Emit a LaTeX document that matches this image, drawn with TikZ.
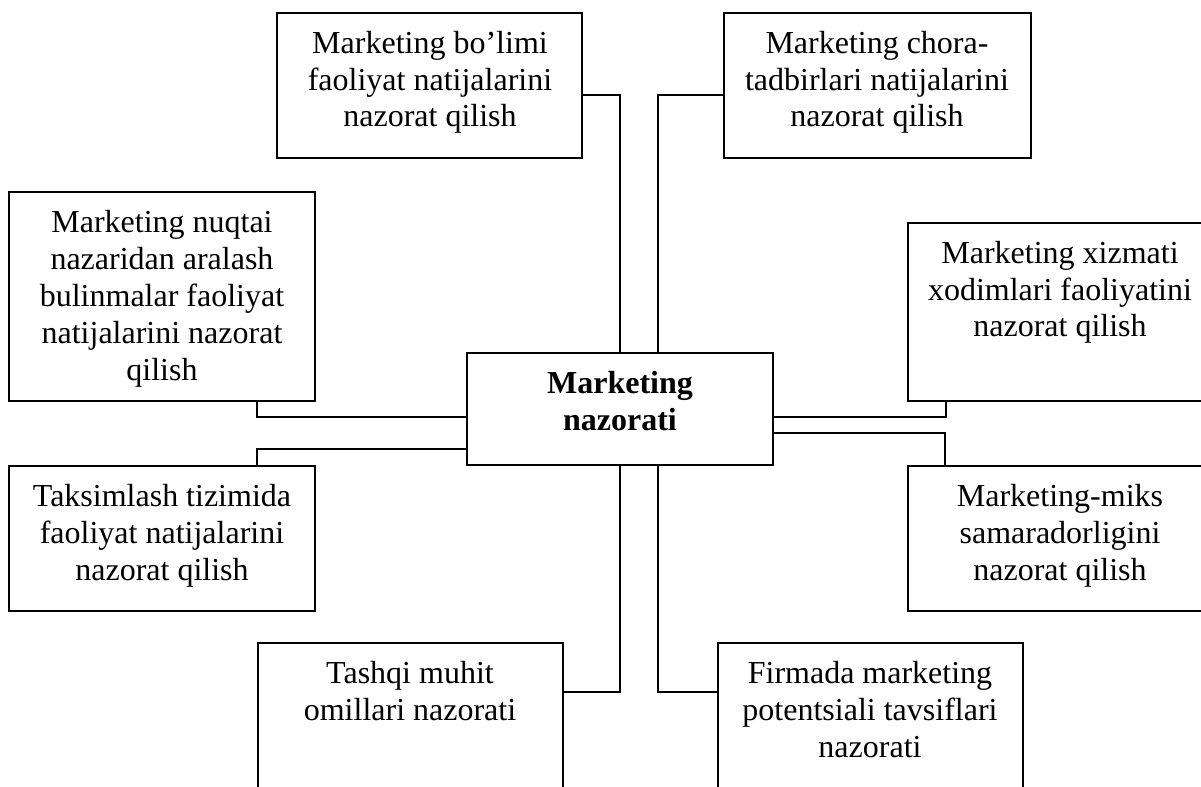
\documentclass[tikz,border=0pt]{standalone}
\usepackage{fontspec}
\setmainfont{Liberation Serif}
\usetikzlibrary{calc}
\begin{document}
\begin{tikzpicture}[x=0.75pt,y=-0.75pt,
  box/.style={draw, line width=1.5pt, inner sep=0pt, outer sep=0pt, anchor=north west},
  lbl/.style={anchor=base, align=center, inner sep=0pt, font=\fontsize{24pt}{27.6pt}\selectfont},
  conn/.style={line width=1.3pt}]
\useasboundingbox (0,0) rectangle (1201,787);
\clip (0,0) rectangle (1201,787);
\fill[white] (0,0) rectangle (1201,787);
% boxes
\node[box, minimum width={305*0.75pt}, minimum height={145*0.75pt}] (b1) at (277,13) {};
\node[box, minimum width={307*0.75pt}, minimum height={145*0.75pt}] (b2) at (724,13) {};
\node[box, minimum width={306*0.75pt}, minimum height={209*0.75pt}] (b3) at (9,192) {};
\node[box, minimum width={306*0.75pt}, minimum height={145*0.75pt}] (b4) at (9,466) {};
\node[box, minimum width={304*0.75pt}, minimum height={178*0.75pt}] (b5) at (908,223) {};
\node[box, minimum width={304*0.75pt}, minimum height={145*0.75pt}] (b6) at (908,466) {};
\node[box, minimum width={305*0.75pt}, minimum height={160*0.75pt}] (b7) at (258,643) {};
\node[box, minimum width={305*0.75pt}, minimum height={160*0.75pt}] (b8) at (718,643) {};
\node[box, minimum width={306*0.75pt}, minimum height={112*0.75pt}] (c) at (467,353) {};
% labels (anchor=base is the last line's baseline)
\node[lbl] (t1) at (430,127) {Marketing bo’limi\\faoliyat natijalarini\\nazorat qilish};
\node[lbl] (t2) at (877,127) {Marketing chora-\\tadbirlari natijalarini\\nazorat qilish};
\node[lbl] (t3) at (162,380) {Marketing nuqtai\\nazaridan aralash\\bulinmalar faoliyat\\natijalarini nazorat\\qilish};
\node[lbl] (t4) at (162,580) {Taksimlash tizimida\\faoliyat natijalarini\\nazorat qilish};
\node[lbl] (t5) at (1060,337) {Marketing xizmati\\xodimlari faoliyatini\\nazorat qilish};
\node[lbl] (t6) at (1060,580) {Marketing-miks\\samaradorligini\\nazorat qilish};
\node[lbl] (t7) at (410,720) {Tashqi muhit\\omillari nazorati};
\node[lbl] (t8) at (870,757) {Firmada marketing\\potentsiali tavsiflari\\nazorati};
\node[lbl, font=\fontsize{24pt}{27.6pt}\selectfont\bfseries] (tc) at (620,430) {Marketing\\nazorati};
% connectors
\draw[conn] ($(b1.north east)+(0,82)$) -| ($(c.north west)+(153,0)$);
\draw[conn] ($(b2.north west)+(0,82)$) -| ($(c.north west)+(191,0)$);
\draw[conn] ($(b3.south west)+(248,0)$) |- ($(c.north west)+(0,64)$);
\draw[conn] ($(b4.north west)+(248,0)$) |- ($(c.north west)+(0,96)$);
\draw[conn] ($(c.north east)+(0,64)$) -| ($(b5.south west)+(38,0)$);
\draw[conn] ($(c.north east)+(0,80)$) -| ($(b6.north west)+(37,0)$);
\draw[conn] ($(b7.north east)+(0,49)$) -| ($(c.south west)+(153,0)$);
\draw[conn] ($(b8.north west)+(0,49)$) -| ($(c.south west)+(191,0)$);
\end{tikzpicture}
\end{document}
